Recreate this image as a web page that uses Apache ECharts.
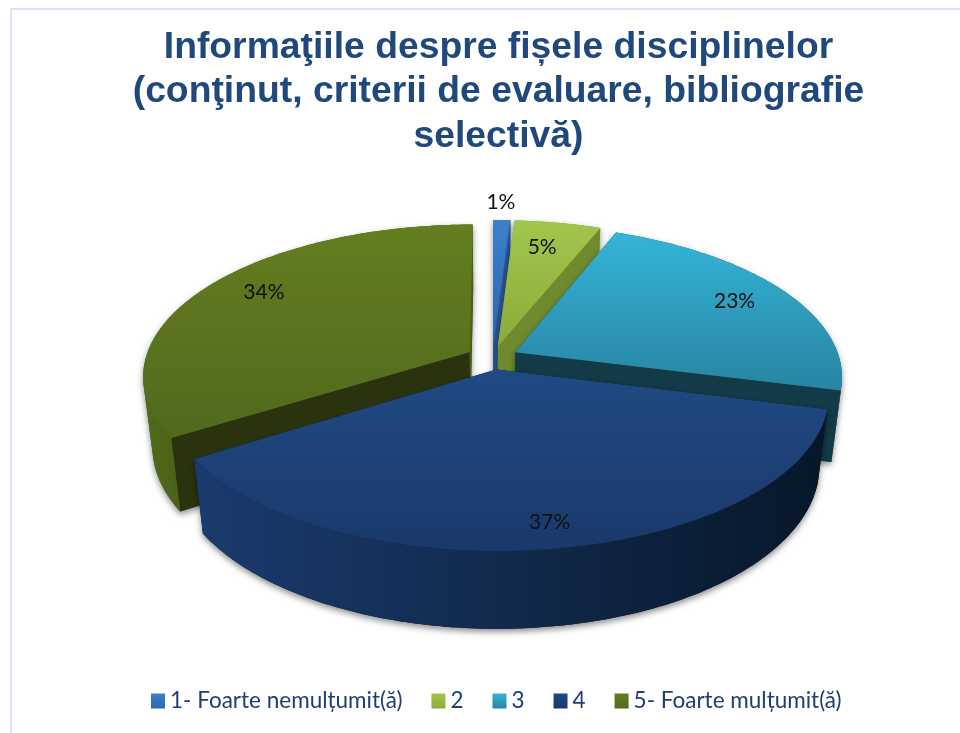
<!DOCTYPE html>
<html><head><meta charset="utf-8">
<style>html,body{margin:0;padding:0;background:#fff}#c{width:960px;height:733px}</style>
<script src="https://cdn.jsdelivr.net/npm/echarts@6/dist/echarts.min.js"></script>
</head><body><div id="c"></div>
<script>
const categories = ['1- Foarte nemulțumit(ă)', '2', '3', '4', '5- Foarte mulțumit(ă)'];
const values = [1, 5, 23, 37, 34];
const titleLines = ['Informaţiile despre fișele disciplinelor', '(conţinut, criterii de evaluare, bibliografie', 'selectivă)'];

const G = echarts.graphic.LinearGradient;
const looks = [
  {top:['#3c7fcc','#2e68ac'], wall:['#2a5c9c','#2a5c9c'], cutA:'#2f62a4', cutB:'#2a5590', reach:1.17, nudge:[-2,0], z:1},
  {top:['#a2c64b','#8aab3c'], wall:['#7c9a34','#7c9a34'], cutA:'#7c9a34', cutB:'#6f8b2e', reach:0.80, nudge:[-5,2], z:3},
  {top:['#34b4d8','#2884a2'], wall:['#1b5668','#174a5a'], cutA:'#1b5668', cutB:'#133a47', reach:0.82, nudge:[-2,1], z:4},
  {top:['#1f4a84','#1a396a'], wall:['#1b3b6e','#071729'], cutA:'#1b3b6e', cutB:'#0a1a30', reach:0.87, nudge:[1,1], z:5},
  {top:['#647e20','#51691d'], wall:['#526b1b','#4a6018'], cutA:'#2a330e', cutB:'#4a6018', reach:0.80, nudge:[6,-6], z:2}
];
const P = {cx:492.3, cy:357.7, B:324, A:149, H:72, p:0.156, q:0.027, e:0.08};
const total = values.reduce((a,b)=>a+b,0);
const rad = d => d*Math.PI/180;
function project(x,y,z){
  const s = 1/(1 - P.p*y + P.q*z);
  return [P.cx + P.B*x*s, P.cy + (P.A*y + P.H*z)*s];
}
function area(pts){let a=0;for(let i=0;i<pts.length;i++){const u=pts[i],v=pts[(i+1)%pts.length];a+=u[0]*v[1]-v[0]*u[1];}return a/2;}
function hull(points){
  const pts=points.slice().sort((a,b)=>a[0]-b[0]||a[1]-b[1]);
  const cr=(o,a,b)=>(a[0]-o[0])*(b[1]-o[1])-(a[1]-o[1])*(b[0]-o[0]);
  const lo=[],up=[];
  for(const p of pts){while(lo.length>1&&cr(lo[lo.length-2],lo[lo.length-1],p)<=0)lo.pop();lo.push(p);}
  for(const p of pts.slice().reverse()){while(up.length>1&&cr(up[up.length-2],up[up.length-1],p)<=0)up.pop();up.push(p);}
  return lo.slice(0,-1).concat(up.slice(0,-1));
}
function sliceShapes(i, val){
  const look = looks[i];
  const before = values.slice(0,i).reduce((a,b)=>a+b,0);
  const t1 = before/total*360, t2 = t1 + val/total*360, mid=(t1+t2)/2;
  const ox = P.e*Math.sin(rad(mid)), oy = -P.e*Math.cos(rad(mid));
  const rim=(t,z)=>project(ox+Math.sin(rad(t)),oy-Math.cos(rad(t)),z);
  const apex=z=>project(ox,oy,z);
  const n=Math.max(4,Math.ceil(t2-t1)), angles=[];
  for(let k=0;k<=n;k++)angles.push(t1+(t2-t1)*k/n);
  const topArc=angles.map(t=>rim(t,0)), botArc=angles.map(t=>rim(t,1));
  const children=[];
  const poly=(points,fill,extra)=>children.push({type:'polygon',shape:{points},style:Object.assign({fill},extra||{})});
  poly(hull(topArc.concat(botArc,[apex(0),apex(1)])),look.wall[1],{shadowBlur:6,shadowOffsetY:3,shadowColor:'rgba(0,0,0,0.45)'});
  const f1=[apex(0),rim(t1,0),rim(t1,1),apex(1)];
  if(area(f1)<0)poly(f1,look.cutA);
  const f2=[apex(0),rim(t2,0),rim(t2,1),apex(1)];
  if(area(f2)>0)poly(f2,look.cutB);
  const upper=[],lower=[];
  for(let k=0;k<n;k++){
    const q=[topArc[k],topArc[k+1],botArc[k+1],botArc[k]];
    if(area(q)<0){
      if(!upper.length){upper.push(topArc[k]);lower.push(botArc[k]);}
      upper.push(topArc[k+1]);lower.push(botArc[k+1]);
    }
  }
  if(upper.length){
    const leftToRight=new G(0,0,1,0,[{offset:0,color:look.wall[0]},{offset:1,color:look.wall[1]}]);
    poly(upper.concat(lower.reverse()),leftToRight);
  }
  poly([apex(0)].concat(topArc),new G(0,0,0,1,[{offset:0,color:look.top[0]},{offset:1,color:look.top[1]}]));
  const L=project(ox+look.reach*Math.sin(rad(mid)),oy-look.reach*Math.cos(rad(mid)),0);
  children.push({type:'text',z2:10,style:{x:L[0]+look.nudge[0],y:L[1]+look.nudge[1],text:val+'%',fill:'#111',font:'21px Lato, "Open Sans", sans-serif',textAlign:'center',textVerticalAlign:'middle'}});
  return children;
}
const chart = echarts.init(document.getElementById('c'),null,{renderer:'canvas'});
chart.setOption({
  animation:false,
  backgroundColor:'#ffffff',
  title:{text:titleLines.join('\n'),left:498.5,top:25,textAlign:'center',padding:0,
    textStyle:{fontFamily:'"Liberation Sans",Arial,sans-serif',fontWeight:'bold',fontSize:37.3,lineHeight:44.5,color:'#1f497d'}},
  legend:{left:151,top:689.5,padding:0,icon:'rect',itemWidth:14,itemHeight:15,itemGap:29,
    textStyle:{fontFamily:'Lato,"Open Sans",sans-serif',fontSize:22.5,color:'#1f3f72',padding:[0,0,0,0]},
    data:categories.map((name,i)=>({name,itemStyle:{color:new G(0,0,0,1,[{offset:0,color:looks[i].top[0]},{offset:1,color:looks[i].top[1]}])}}))},
  graphic:[{type:'rect',shape:{x:11,y:9,width:1000,height:800},style:{fill:'none',stroke:'#d6e4f5',lineWidth:2},silent:true,z:-1}],
  series:categories.map((name,i)=>({
    type:'custom',name,coordinateSystem:'none',z:looks[i].z+2,silent:true,
    itemStyle:{color:looks[i].top[0]},
    data:[[values[i]]],
    renderItem:(params,api)=>({type:'group',children:sliceShapes(i,api.value(0))})
  }))
});
</script></body></html>
